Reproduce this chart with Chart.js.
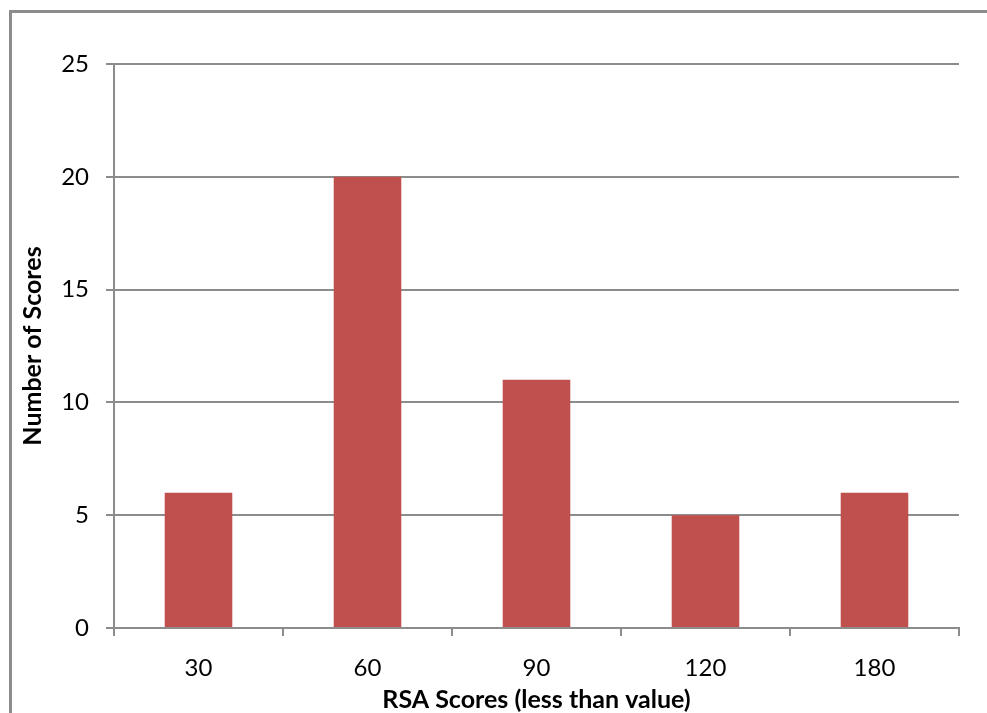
<!DOCTYPE html>
<html>
<head>
<meta charset="utf-8">
<script src="https://cdn.jsdelivr.net/npm/chart.js@4.4.1/dist/chart.umd.min.js"></script>
<style>
  html, body { margin: 0; padding: 0; background: #fff; overflow: hidden; }
  #wrap { position: absolute; left: 0; top: 0; width: 987px; height: 713px; }
  #frame { position: absolute; left: 9px; top: 10px; width: 1100px; height: 900px;
           border: 3px solid #8c8c8c; box-sizing: border-box; }
</style>
</head>
<body>
<div id="frame"></div>
<div id="wrap"><canvas id="chart" width="987" height="713"></canvas></div>
<script>
// data
var categories = ["30", "60", "90", "120", "180"];
var counts = [6, 20, 11, 5, 6];
var yMax = 25;
var yStep = 5;

var gridColor = "#8c8c8c";
var fontFamily = "Lato, 'Open Sans', sans-serif";

var ctx = document.getElementById("chart").getContext("2d");
var myChart = new Chart(ctx, {
    type: "bar",
    data: {
        labels: categories,
        datasets: [{
            label: "Number of Scores",
            data: counts,
            backgroundColor: "#C0504D",
            barPercentage: 0.4,
            categoryPercentage: 1.0
        }]
    },
    options: {
        responsive: false,
        animation: false,
        layout: { padding: { left: 0, top: 64, right: 28, bottom: 0 } },
        plugins: {
            legend: { display: false },
            tooltip: { enabled: false }
        },
        scales: {
            x: {
                offset: true,
                grid: {
                    offset: true,
                    drawOnChartArea: false,
                    drawTicks: true,
                    tickLength: 8,
                    color: gridColor,
                    lineWidth: 2
                },
                border: { display: true, color: gridColor, width: 2 },
                ticks: {
                    color: "#000",
                    padding: 18,
                    font: { family: fontFamily, size: 24 }
                },
                title: {
                    display: true,
                    text: "RSA Scores (less than value)",
                    color: "#000",
                    padding: { top: 0, bottom: -2 },
                    font: { family: fontFamily, size: 25, weight: "bold" }
                },
                afterFit: function (scale) { scale.height = 85; }
            },
            y: {
                min: 0,
                max: yMax,
                ticks: {
                    stepSize: yStep,
                    color: "#000",
                    padding: 17,
                    font: { family: fontFamily, size: 24 }
                },
                grid: {
                    color: gridColor,
                    lineWidth: 2,
                    drawTicks: true,
                    tickLength: 8
                },
                border: { display: true, color: gridColor, width: 2 },
                title: {
                    display: true,
                    text: "Number of Scores",
                    color: "#000",
                    padding: { top: 18, bottom: 0 },
                    font: { family: fontFamily, size: 25, weight: "bold" }
                },
                afterFit: function (scale) { scale.width = 114; }
            }
        }
    }
});
</script>
</body>
</html>
